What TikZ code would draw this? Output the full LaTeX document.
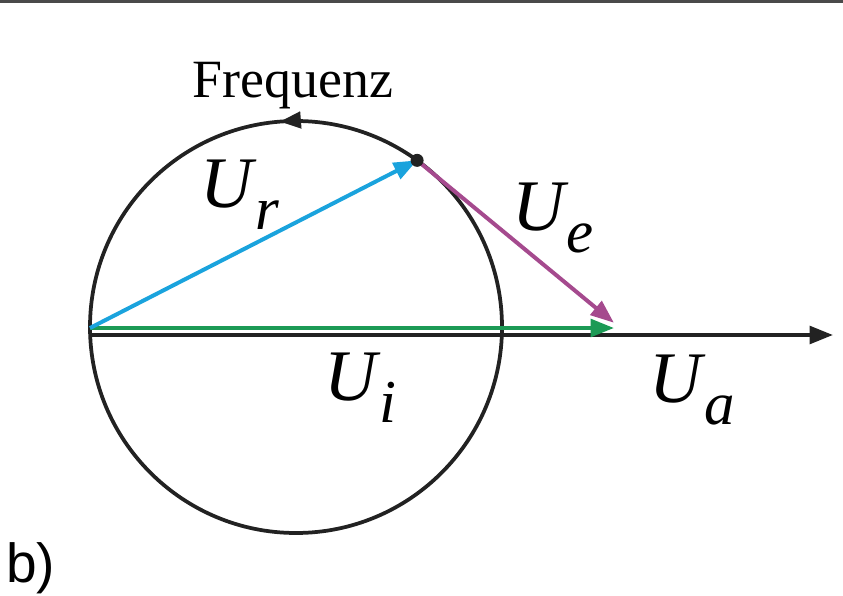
\documentclass[tikz,border=0pt]{standalone}
\usepackage{fontspec}
\setmainfont{Liberation Serif}
\newfontfamily\labelsans{Liberation Sans}
\usepackage{tikz}
\usetikzlibrary{arrows.meta,positioning,calc}
\definecolor{Ink}{HTML}{222222}
\definecolor{Rule}{HTML}{4A4A4A}
\definecolor{Sky}{HTML}{1AA3DD}
\definecolor{Plum}{HTML}{A54A8E}
\definecolor{Leaf}{HTML}{1C9A55}
\newcommand{\volt}[1]{\textit{U}\kern-0.02em\raisebox{-0.3em}{\fontsize{52}{52}\selectfont\textit{#1}}}
\tikzset{
  phasor/.style={line width=3.4pt, -{Triangle[length=20pt,width=15pt]}, color=#1},
  phasor/.default={Ink},
  circline/.style={line width=3.2pt, color=Ink},
  vlabel/.style={font=\fontsize{62}{62}\selectfont, inner sep=0pt},
}

\begin{document}
\begin{tikzpicture}[x=0.03cm,y=-0.03cm]
  \useasboundingbox (0,0) rectangle (843,596);
  \fill[Rule] (0,0) rectangle (843,3.5);
  % circle locus
  \coordinate (M) at (296,327);
  \coordinate (O) at (90,328);
  \coordinate (P) at ($(M)+(-54:206)$);
  \coordinate (A) at (614,328);
  \coordinate (Ax0) at (90,335);
  \coordinate (Ax1) at (833,335);
  \draw[circline] (M) circle (206);
  \draw[circline, -{Triangle[length=18pt,width=14pt]}] ($(M)+(-90:206)$) arc (-90:-94.5:206);
  % axis and phasors
  \draw[phasor] (Ax0) -- (Ax1);
  \draw[phasor=Leaf] (O) -- (A);
  \draw[phasor=Sky] (O) -- (P);
  \draw[phasor=Plum, shorten >=-1pt] (P) -- ($(A)+(-1,-6)$);
  \fill[Ink] (P) circle (6.5);
  % labels
  \node[font=\fontsize{46}{46}\selectfont, anchor=base] (freq) at (293,98) {Frequenz};
  \node[vlabel] (ur) at (240,195) {\volt{r}};
  \node[vlabel] (ue) at (553,218) {\volt{e}};
  \node[vlabel] (ui) at (360,388) {\volt{i}};
  \node[vlabel] (ua) at (692,390) {\volt{a}};
  \node[font=\labelsans\fontsize{47}{47}\selectfont, anchor=base west, inner sep=0pt] (tag) at (6,582) {b)};
\end{tikzpicture}
\end{document}
